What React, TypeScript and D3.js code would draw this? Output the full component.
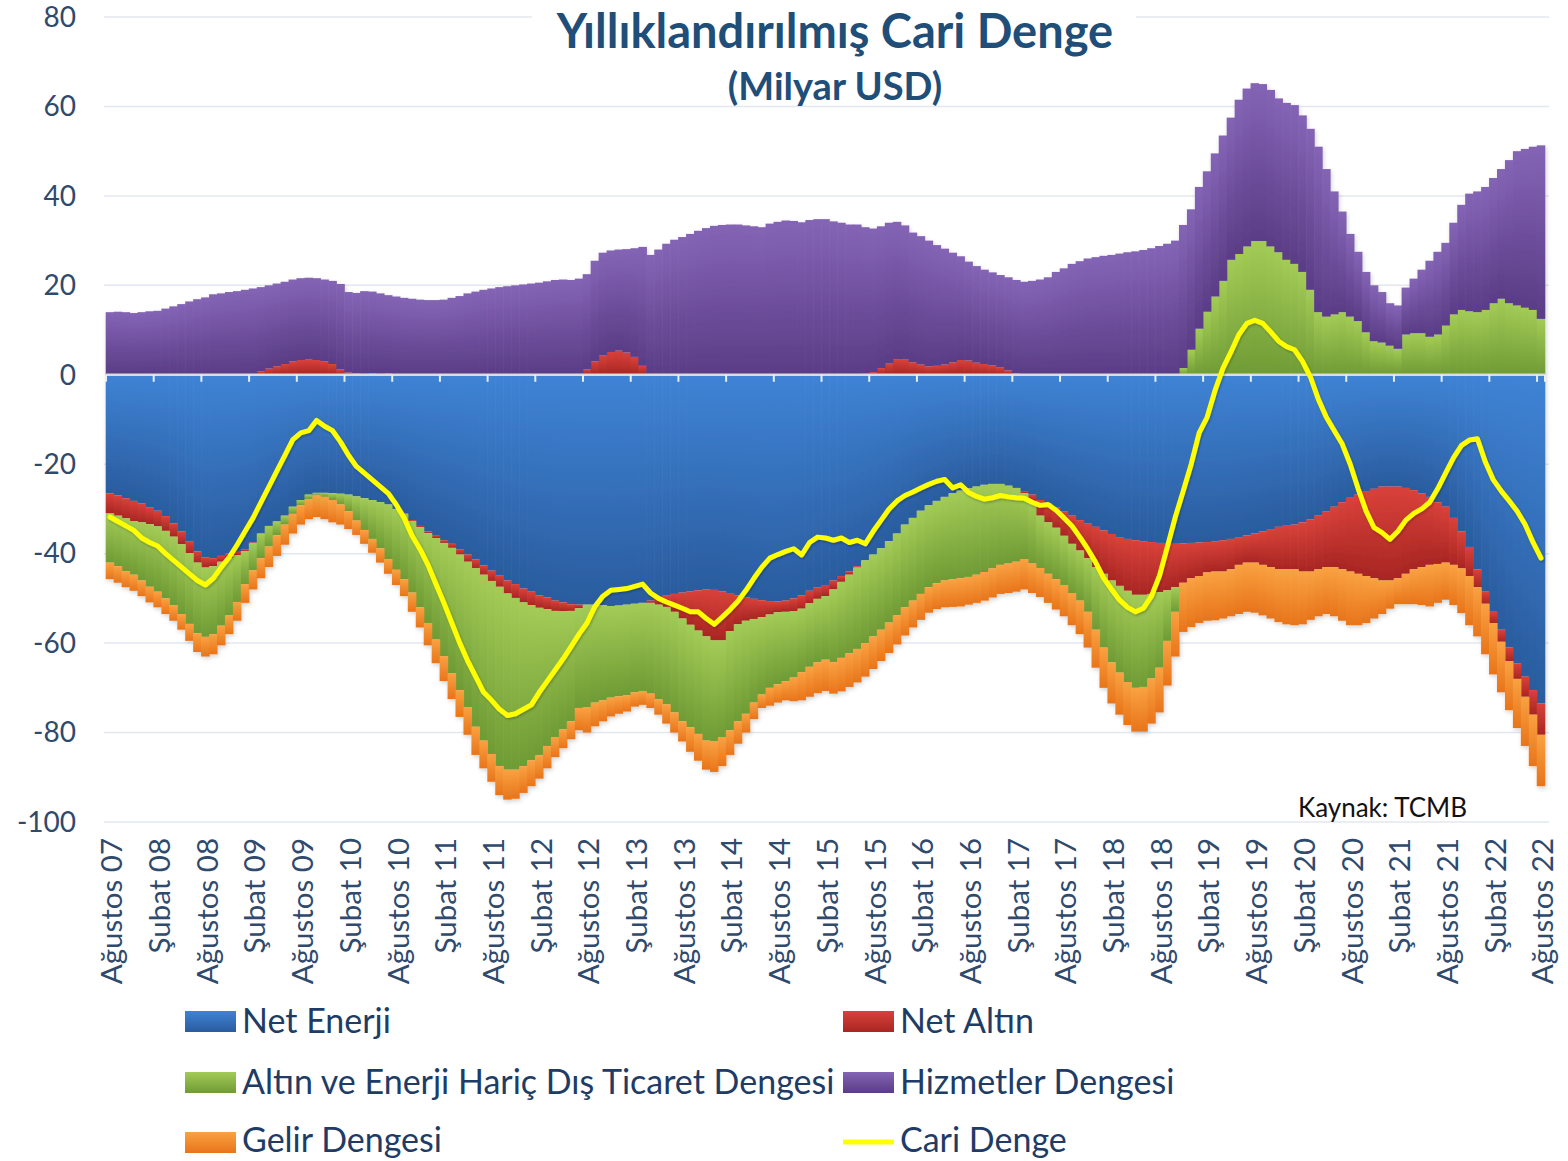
import React from 'react';
import * as d3 from 'd3';

// ---------------- DATA (Milyar USD, 12-month rolling) ----------------
const tickLabels = [
  'Ağustos 07', 'Şubat 08', 'Ağustos 08', 'Şubat 09', 'Ağustos 09', 'Şubat 10', 'Ağustos 10', 'Şubat 11',
  'Ağustos 11', 'Şubat 12', 'Ağustos 12', 'Şubat 13', 'Ağustos 13', 'Şubat 14', 'Ağustos 14', 'Şubat 15',
  'Ağustos 15', 'Şubat 16', 'Ağustos 16', 'Şubat 17', 'Ağustos 17', 'Şubat 18', 'Ağustos 18', 'Şubat 19',
  'Ağustos 19', 'Şubat 20', 'Ağustos 20', 'Şubat 21', 'Ağustos 21', 'Şubat 22', 'Ağustos 22'
];

const yTicks = [80, 60, 40, 20, 0, -20, -40, -60, -80, -100];

const netEnerji = [
  -26.5, -27, -27.6, -28.2, -28.8, -29.6, -30.4, -31.6, -33.2, -35,
  -37.2, -39.5, -40.8, -41, -40.5, -40, -39.6, -39, -37.5, -35.5,
  -33.8, -32.8, -31.5, -29.5, -28, -26.8, -26.4, -26.4, -26.5, -26.6,
  -26.8, -27.2, -27.6, -28, -28.5, -29, -30, -31, -32.5, -33.8,
  -35, -36, -37, -37.8, -39, -40.2, -41.3, -42.6, -43.8, -44.8,
  -46, -46.8, -47.8, -48.5, -49.3, -49.8, -50.5, -50.9, -51.3, -51.4,
  -51.4, -51.4, -51.5, -51.7, -51.6, -51.4, -51.2, -51, -50.5, -49.9,
  -49.4, -49, -48.7, -48.4, -48.2, -48, -48.1, -48.4, -48.8, -49.3,
  -49.8, -50.1, -50.4, -50.6, -50.7, -50.5, -50, -49.3, -48.3, -47.5,
  -47, -46, -45, -44, -42.8, -41.5, -40.2, -38.8, -37.2, -35.5,
  -33.5, -32, -30.4, -29.2, -28.2, -27.3, -26.5, -25.9, -25.4, -25,
  -24.6, -24.4, -24.4, -24.8, -25.3, -26, -26.8, -28, -28.8, -29.6,
  -30.5, -31.5, -32.5, -33.3, -34, -34.8, -35.6, -36.3, -36.7, -37,
  -37.2, -37.4, -37.6, -37.8, -37.8, -37.7, -37.6, -37.5, -37.4, -37.3,
  -37, -36.7, -36.3, -35.9, -35.5, -35, -34.5, -34, -33.6, -33.5,
  -33, -32.3, -31.5, -30.5, -29.5, -28.5, -27.5, -26.8, -26, -25.5,
  -25, -25, -25, -25.3, -25.8, -26.5, -27.3, -28.5, -29.5, -32,
  -35, -38.5, -43.5, -48.5, -53, -57, -61, -64.5, -67.5, -70.5, -73.5
];

const netAltin = [
  -4.5, -4.5, -4.5, -4.5, -4.2, -3.8, -3.5, -3.3, -3, -2.9,
  -2.7, -2.5, -2.3, -1.8, -1.3, -1, -0.7, -0.4, -0.2, 0.8,
  1.4, 1.9, 2.4, 3, 3.3, 3.4, 3.3, 3, 2.4, 1.2,
  0.5, 0.3, 0.2, 0.3, 0.4, 0.3, 0.1, -0.1, -0.2, -0.3,
  -0.4, -0.5, -0.6, -0.9, -1.2, -1.6, -1.9, -2.1, -2.3, -2.6,
  -2.9, -3.1, -3.1, -3, -2.8, -2.6, -2.3, -2, -1.5, -0.8,
  1.2, 3, 4.3, 5.1, 5.4, 5, 4, 2, -0.5, -1.5,
  -2.5, -4, -5.8, -7.5, -9, -10.5, -11.3, -11, -8.5, -6.5,
  -5.2, -4.5, -3.8, -3, -2.4, -2.5, -2.9, -3, -2.8, -2.6,
  -2.5, -2, -1.3, -0.7, -0.3, 0.2, 0.6, 1.5, 2.5, 3.5,
  3.4, 2.8, 2.3, 1.9, 2, 2.3, 2.8, 3.3, 3.2, 2.7,
  2.4, 2.1, 1.7, 1, 0.3, -0.5, -1.5, -3.5, -4.2, -4.6,
  -5.5, -6.3, -6.8, -7.7, -9, -9.7, -10.4, -10.9, -11.6, -12.2,
  -12, -11.6, -11, -10.4, -9.7, -8.8, -7.9, -7.5, -6.8, -6.7,
  -7, -6.8, -6.2, -6.1, -6.5, -7.5, -8.5, -9.5, -9.9, -10,
  -11, -11.7, -12, -12.5, -13.5, -15, -16.5, -17.7, -19, -20,
  -21, -21, -20.5, -19.2, -17.7, -16.5, -15.2, -13.8, -12.5, -10.5,
  -8.3, -6.5, -4, -2.7, -2.5, -2.7, -3, -3.5, -4.5, -5.5, -7
];

const disTicaret = [
  -11, -11.3, -11.8, -12, -13, -14, -14.6, -15.1, -15.3, -15.6,
  -15.8, -15.8, -15.5, -15.2, -14.3, -12.8, -10.5, -7.4, -6, -5.5,
  -4.6, -3.1, -2, -1.6, -1.2, -1, -0.6, -0.9, -1.5, -2.4,
  -3.7, -5.4, -7.1, -8.7, -10.3, -12.2, -13.6, -14.6, -16, -17.9,
  -20.1, -22.7, -25.3, -28, -30.3, -32.5, -35.5, -37.1, -38.7, -40.1,
  -39.4, -38.4, -36.6, -34.7, -33, -30.6, -28.2, -26.4, -24.7, -22.3,
  -22.9, -21.9, -21.3, -20.5, -20.3, -20.3, -19.8, -19.7, -20.3, -21.2,
  -21.8, -22.5, -23, -22.9, -23.1, -23.3, -22.6, -21.6, -22.2, -21.7,
  -20.8, -18.7, -17.3, -16.4, -16.1, -15.5, -14.8, -14.2, -14.2, -14.2,
  -14.2, -16.3, -17, -17.6, -18.2, -18.5, -18.3, -18.2, -18.2, -18.3,
  -18.5, -18.5, -18.6, -18.3, -18.4, -18.7, -19.2, -19.6, -19.8, -19.7,
  -19.5, -18.9, -18.1, -17.4, -16.5, -14.7, -13.9, -11.7, -11.5, -11.5,
  -11, -11, -11.2, -12, -14, -16.5, -18.3, -19.4, -20.4, -20.8,
  -20.6, -18.9, -16.9, -11.3, -5.5, 1.5, 5.6, 10.3, 14.1, 17.5,
  21, 25.7, 27, 28.7, 29.9, 29.9, 28.7, 27.4, 25.7, 24.8,
  23, 19, 14, 13, 13.5, 14, 13, 12, 9.5, 7.5,
  7.2, 6.5, 5.8, 9, 9.3, 9.3, 8.5, 9, 11, 13.5,
  14.5, 14.2, 14, 14.5, 16, 17, 16, 15.5, 15, 14.5, 12.5
];

const hizmetler = [
  14, 14.1, 14, 13.8, 14, 14.2, 14.3, 14.8, 15.3, 15.8,
  16.4, 16.9, 17.3, 18, 18.2, 18.5, 18.7, 19, 19.3, 18.8,
  18.6, 18.5, 18.4, 18.3, 18.3, 18.3, 18.3, 18.3, 18.6, 19.1,
  18, 18, 18.5, 18.3, 17.8, 17.5, 17.4, 17.2, 17, 16.8,
  16.7, 16.7, 16.8, 17.2, 17.6, 18.2, 18.6, 19, 19.3, 19.6,
  19.8, 20, 20.2, 20.4, 20.6, 20.9, 21.2, 21.3, 21.2, 21.5,
  21.3, 22.5, 23, 22.7, 22.6, 23.1, 24.3, 26.6, 26.8, 28,
  29.3, 30.2, 30.8, 31.5, 32.2, 32.8, 33.3, 33.5, 33.6, 33.6,
  33.4, 33.2, 33, 33.8, 34.2, 34.5, 34.4, 34.1, 34.6, 34.8,
  34.8, 34.3, 34, 33.6, 33.6, 32.8, 32.1, 31.7, 31.5, 30.7,
  30, 29, 28.7, 28.1, 27, 25.9, 24.5, 23.2, 22.1, 21.6,
  21.1, 20.8, 20.6, 20.8, 20.9, 20.8, 21, 21.3, 21.8, 23,
  23.8, 24.8, 25.4, 26, 26.3, 26.6, 26.8, 27.1, 27.4, 27.6,
  27.9, 28.3, 28.8, 29.3, 30, 32, 31.4, 31.7, 31.4, 32,
  32.5, 31.8, 34.5, 35.3, 35.3, 35.1, 35, 34.4, 35.1, 35.5,
  35, 36, 37, 33, 27.5, 22.5, 18.5, 15.5, 13.5, 12.5,
  11.3, 9.5, 9.7, 10.5, 12.2, 14.2, 17, 18.5, 18.5, 20.5,
  23.5, 26.3, 27, 27.5, 28, 29, 32, 34.5, 35.5, 36.5, 38.8
];

const gelir = [
  -3.7, -3.7, -3.6, -3.6, -3.5, -3.5, -3.5, -3.5, -3.5, -3.5,
  -3.8, -4.2, -4.4, -4.5, -4.4, -4.2, -4.2, -4.2, -4.3, -4.5,
  -4.6, -4.6, -4.5, -4.4, -4.3, -4.5, -4.8, -5, -5, -4.5,
  -4, -3.2, -3.1, -3.1, -3.2, -3.3, -3.4, -3.8, -4.3, -4.5,
  -5, -5.3, -5.6, -5.8, -6, -6.2, -6.3, -6.2, -6.2, -6.5,
  -6.7, -6.5, -6, -5.8, -5.2, -5, -4.5, -4.2, -4, -5,
  -5.7, -5.3, -4.7, -4.2, -3.9, -3.6, -3.2, -3.1, -3.2, -3.4,
  -4.3, -4.5, -4.5, -5.5, -6, -6.5, -6.8, -6.5, -5.5, -5,
  -4.2, -3.7, -3, -4, -4.1, -4.3, -5.3, -6.3, -6.7, -6.9,
  -7, -7, -7.5, -7.5, -7.5, -7.5, -7.3, -7, -6.8, -6.5,
  -6.3, -6, -5.8, -5.7, -5.8, -6, -6.2, -6.3, -6.2, -6.3,
  -6.4, -6.5, -6.5, -6.6, -6.7, -6.8, -6.6, -6.5, -6.5, -6.8,
  -7, -7.2, -7.5, -8, -8.5, -9, -9.2, -9.4, -9.6, -9.8,
  -10, -10.1, -10, -10, -10, -11, -10.9, -10.5, -10.8, -10.9,
  -10.5, -10.5, -11, -11, -11.2, -11.3, -11.5, -11.8, -12.3, -12.5,
  -11.8, -10.8, -10.5, -10.5, -11, -11.5, -12, -11.5, -10.5, -9,
  -7.5, -6.3, -5.8, -6.8, -7.8, -8.5, -9.3, -8.7, -8.3, -9,
  -10, -11, -11, -11.3, -11.5, -11.3, -11, -11, -11, -11.5, -11.5
];

const cariDenge = [
  -31.8, -32.8, -33.8, -34.8, -36.5, -37.5, -38.3, -40, -41.5, -43,
  -44.5, -46, -47, -45.5, -43, -40.8, -38, -35, -32, -28.5,
  -25, -21.5, -18, -14.5, -13, -12.5, -10.2, -11.5, -12.5, -15,
  -18, -20.5, -22, -23.5, -25, -26.5, -29, -32, -36, -39,
  -42.5, -46.8, -51, -55.5, -60, -64, -67.5, -71, -72.8, -74.8,
  -76.2, -75.8, -74.8, -73.8, -71, -68.5, -66, -63.5, -60.8, -58,
  -55.5, -51.8, -49.5, -48.2, -48, -47.8, -47.3, -46.8, -48.8, -50,
  -50.8, -51.5, -52.2, -53, -53, -54.5, -55.8, -54.2, -52.5, -50.6,
  -48.2, -45.5, -43, -41, -40.2, -39.5, -38.9, -40.3, -37.5, -36.3,
  -36.5, -37, -36.5, -37.5, -37, -37.8, -35, -32.5, -30, -28.2,
  -27, -26.2, -25.3, -24.5, -23.8, -23.4, -25.3, -24.6, -26.3, -27.2,
  -27.8, -27.5, -27, -27.3, -27.5, -27.6, -28.5, -29.2, -29, -30.3,
  -32, -33.8, -36.3, -39, -42, -45.5, -48, -50.4, -52, -53,
  -52.2, -49.5, -45, -38.5, -31.8, -26, -20, -13, -9.5, -3.5,
  1.5, 5.1, 9, 11.5, 12.2, 11.5, 9.6, 7.5, 6.3, 5.6,
  3, -0.5, -5.5, -9.5, -12.5, -15.5, -20, -25.5, -30.5, -34.2,
  -35.3, -36.8, -35, -32.5, -31, -30, -28.5, -25.5, -22, -18.5,
  -15.8, -14.6, -14.3, -19.5, -23.5, -26, -28.2, -30.5, -33.5, -37.5, -41
];

const categories = d3.timeMonth.range(new Date(2007, 7, 1), new Date(2022, 8, 1));

const seriesDefs = [
  { key: 'netEnerji', name: 'Net Enerji', values: netEnerji, c1: '#3f83d5', c2: '#2a5c9e' },
  { key: 'netAltin', name: 'Net Altın', values: netAltin, c1: '#d9413a', c2: '#a82623' },
  { key: 'disTicaret', name: 'Altın ve Enerji Hariç Dış Ticaret Dengesi', values: disTicaret, c1: '#a3cb56', c2: '#6f9b35' },
  { key: 'hizmetler', name: 'Hizmetler Dengesi', values: hizmetler, c1: '#8464b5', c2: '#5a3c86' },
  { key: 'gelir', name: 'Gelir Dengesi', values: gelir, c1: '#f9a242', c2: '#e8741a' }
];

// ---------------- LAYOUT ----------------
const W = 1568;
const H = 1161;
const plotLeft = 106;
const plotRight = 1545;
const plotTop = 17;
const plotBottom = 822;
const FONT = 'Lato, "Open Sans", "Noto Sans", sans-serif';
const AXIS_COLOR = '#2f4a6d';
const TEXT_COLOR = '#203c66';

export default function App() {
  const x = d3.scaleBand<number>()
    .domain(d3.range(categories.length))
    .range([plotLeft, plotRight])
    .padding(0);
  const y = d3.scaleLinear().domain([-100, 80]).range([plotBottom, plotTop]);
  const bw = x.bandwidth();

  const rows = categories.map((c, i) => {
    const r: any = { i };
    seriesDefs.forEach((s) => { r[s.key] = s.values[i]; });
    return r;
  });

  const stacked = d3.stack<any>()
    .keys(seriesDefs.map((s) => s.key))
    .order(d3.stackOrderNone)
    .offset(d3.stackOffsetDiverging)(rows);

  const line = d3.line<number>()
    .x((d, i) => (x(i) as number) + bw / 2)
    .y((d) => y(d))
    .curve(d3.curveLinear);

  const tickIdx = tickLabels.map((_, k) => k * 6);

  const legendItems = [
    { def: seriesDefs[0], x: 185, y: 1011, base: 1033 },
    { def: seriesDefs[1], x: 843, y: 1011, base: 1033 },
    { def: seriesDefs[2], x: 185, y: 1072, base: 1094 },
    { def: seriesDefs[3], x: 843, y: 1072, base: 1094 },
    { def: seriesDefs[4], x: 185, y: 1132, base: 1152 }
  ];

  return (
    <div style={{ position: 'absolute', left: 0, top: 0, width: W, height: H, background: '#fff' }}>
      <svg width={W} height={H} viewBox={`0 0 ${W} ${H}`} style={{ display: 'block' }}>
        <defs>
          {seriesDefs.map((s) => (
            <linearGradient key={s.key} id={`g-${s.key}`} x1="0" y1="0" x2="0" y2="1">
              <stop offset="0%" stopColor={s.c1} />
              <stop offset="100%" stopColor={s.c2} />
            </linearGradient>
          ))}
          <filter id="lineShadow" x="-5%" y="-5%" width="110%" height="110%">
            <feDropShadow dx="1" dy="1.5" stdDeviation="1.2" floodColor="#000" floodOpacity="0.25" />
          </filter>
          <filter id="barShadow" x="-5%" y="-5%" width="110%" height="110%">
            <feDropShadow dx="1" dy="2" stdDeviation="2" floodColor="#000" floodOpacity="0.18" />
          </filter>
        </defs>

        <rect x={0} y={0} width={W} height={H} fill="#ffffff" />

        {/* Gridlines */}
        {yTicks.filter((t) => t !== 0).map((t) => (
          <line key={t} x1={plotLeft - 2} x2={plotRight + 4} y1={y(t)} y2={y(t)} stroke="#e3e8f0" strokeWidth={1.5} />
        ))}

        {/* Title (with white box behind it, covering the top gridline) */}
        <rect x={532} y={0} width={604} height={54} fill="#ffffff" />
        <text x={835} y={48} textAnchor="middle" fontFamily={FONT} fontWeight={700} fontSize={47} fill="#1f4e79">
          Yıllıklandırılmış Cari Denge
        </text>
        <text x={835} y={100} textAnchor="middle" fontFamily={FONT} fontWeight={700} fontSize={38} fill="#1f4e79">
          (Milyar USD)
        </text>

        {/* Y axis labels */}
        {yTicks.map((t) => (
          <text key={t} x={76} y={y(t)} dy="0.35em" textAnchor="end" fontFamily={FONT} fontSize={28} fill={AXIS_COLOR}>
            {t}
          </text>
        ))}

        {/* Stacked bars */}
        <g filter="url(#barShadow)">
          {stacked.map((layer, li) => (
            <g key={layer.key} fill={`url(#g-${seriesDefs[li].key})`}>
              {layer.map((d, i) => {
                const y0 = y(d[0]);
                const y1 = y(d[1]);
                const top = Math.min(y0, y1);
                const h = Math.abs(y0 - y1);
                if (h < 0.05) return null;
                return (
                  <rect key={i} x={(x(i) as number) - 0.3} y={top} width={bw + 0.6} height={h} />
                );
              })}
            </g>
          ))}
        </g>

        {/* Zero axis with tick marks */}
        <line x1={plotLeft} x2={plotRight} y1={y(0)} y2={y(0)} stroke="#dcdcdc" strokeWidth={2.5} />
        {[...tickIdx, categories.length].map((k) => {
          const tx = k < categories.length ? (x(k) as number) : plotRight;
          return <line key={k} x1={tx} x2={tx} y1={y(0)} y2={y(0) + 7} stroke="#e6eef8" strokeWidth={2} />;
        })}

        {/* Cari Denge line */}
        <path d={line(cariDenge) || ''} fill="none" stroke="#ffff00" strokeWidth={5} strokeLinejoin="round" strokeLinecap="round" filter="url(#lineShadow)" />

        {/* X axis labels */}
        {tickIdx.map((k, j) => {
          const cx = (x(k) as number) + bw / 2 + 2;
          return (
            <text key={k} transform={`translate(${cx},${838}) rotate(-90)`} textAnchor="end" dy="0.35em"
              fontFamily={FONT} fontSize={29.5} fill={AXIS_COLOR}>
              {tickLabels[j]}
            </text>
          );
        })}

        {/* Source */}
        <text x={1298} y={817} fontFamily={FONT} fontSize={26} fill="#111">Kaynak: TCMB</text>

        {/* Legend */}
        {legendItems.map((it) => (
          <g key={it.def.key}>
            <rect x={it.x} y={it.y} width={51} height={21} fill={`url(#g-${it.def.key})`} />
            <text x={it.x + 57} y={it.base} fontFamily={FONT} fontSize={34} fill={TEXT_COLOR}>{it.def.name}</text>
          </g>
        ))}
        <g>
          <line x1={843} x2={894} y1={1142} y2={1142} stroke="#ffff00" strokeWidth={5} />
          <text x={900} y={1152} fontFamily={FONT} fontSize={34} fill={TEXT_COLOR}>Cari Denge</text>
        </g>
      </svg>
    </div>
  );
}
